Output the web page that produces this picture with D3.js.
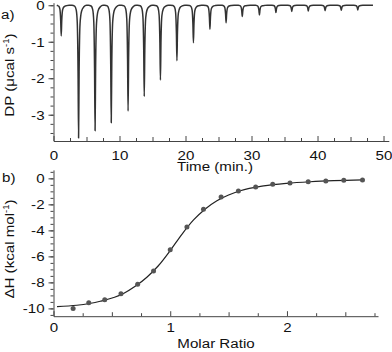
<!DOCTYPE html>
<html>
<head>
<meta charset="utf-8">
<script src="https://cdn.jsdelivr.net/npm/d3@7"></script>
<style>
  body { margin: 0; background: #fff; }
  svg { display: block; }
  text { font-family: "Liberation Sans", Arial, sans-serif; fill: #111; }
</style>
</head>
<body>
<svg id="chart" width="392" height="352"></svg>
<script>
// ---- Data ----
// Panel a: thermogram injection peaks
const peakTimes = [1.17, 3.8, 6.3, 8.75, 11.3, 13.75, 16.2, 18.7, 21.2, 23.7, 26.15, 28.6, 31.2, 33.7, 36.1, 38.6, 41.15, 43.6, 46.1];
const peakDepths = [-0.84, -3.64, -3.44, -3.22, -2.90, -2.50, -2.05, -1.52, -1.03, -0.66, -0.48, -0.31, -0.27, -0.20, -0.17, -0.16, -0.15, -0.14, -0.13];
const traceStart = 0.5, traceEnd = 48.4;
const topXTicks = [0, 10, 20, 30, 40, 50];
const topYTicks = [0, -1, -2, -3];

// Panel b: integrated heats
const molarRatio = [0.168, 0.302, 0.439, 0.578, 0.721, 0.857, 1.0, 1.143, 1.285, 1.436, 1.584, 1.732, 1.878, 2.026, 2.182, 2.333, 2.487, 2.647];
const deltaH = [-10.0, -9.56, -9.33, -8.87, -8.15, -7.13, -5.49, -3.74, -2.38, -1.44, -0.97, -0.67, -0.46, -0.36, -0.26, -0.20, -0.15, -0.12];
// Fitted curve
const fitX = [0.03, 0.2, 0.4, 0.6, 0.7, 0.8, 0.9, 1.0, 1.1, 1.2, 1.3, 1.4, 1.5, 1.6, 1.8, 2.0, 2.2, 2.4, 2.65];
const fitY = [-9.86, -9.76, -9.45, -8.85, -8.3, -7.6, -6.7, -5.55, -4.3, -3.2, -2.35, -1.72, -1.28, -0.95, -0.58, -0.38, -0.26, -0.18, -0.12];
const botXTicks = [0, 1, 2];
const botYTicks = [0, -2, -4, -6, -8, -10];

// ---- Layout ----
const svg = d3.select("#chart");
const axisColor = "#444";
const FS = "13.5px";
const SX = 1.12; // horizontal stretch of the lettering in the reference
const fmt = d => String(d);

// Panel a scales
const xA = d3.scaleLinear().domain([0, 50.8]).range([53.5, 388.8]);
const yA = d3.scaleLinear().domain([0.07, -3.72]).range([2.7, 141]);

// Panel b scales
const xB = d3.scaleLinear().domain([0, 2.78]).range([53.5, 378]);
const yB = d3.scaleLinear().domain([0.65, -10.6]).range([169.9, 316.2]);

function styleAxis(g) {
  g.selectAll("path.domain").attr("stroke", axisColor).attr("stroke-width", 1);
  g.selectAll(".tick line").attr("stroke", axisColor).attr("stroke-width", 1);
  g.selectAll(".tick text").style("font-size", FS).attr("fill", "#111")
    .style("font-family", '"Liberation Sans", Arial, sans-serif')
    .attr("transform", `scale(${SX},1)`);
}
function minorAxis(g) {
  g.select("path.domain").remove();
  g.selectAll(".tick text").remove();
  g.selectAll(".tick line").attr("stroke", axisColor).attr("stroke-width", 1);
}
function label(x, y, anchor, rot) {
  return svg.append("text")
    .attr("transform", `translate(${x},${y})` + (rot ? ` rotate(${rot})` : "") + ` scale(${SX},1)`)
    .attr("text-anchor", anchor).style("font-size", FS);
}

// ---- Panel a axes ----
const minorTop = d3.range(-3.5, 0.01, 0.25);
svg.append("g").attr("transform", `translate(${xA.range()[0]},0)`)
  .call(d3.axisLeft(yA).tickValues(minorTop).tickSize(3).tickFormat(""))
  .call(minorAxis);
svg.append("g").attr("transform", `translate(${xA.range()[0]},0)`)
  .call(d3.axisLeft(yA).tickValues(topYTicks).tickSize(5).tickPadding(3).tickSizeOuter(0).tickFormat(fmt))
  .call(styleAxis);

svg.append("g").attr("transform", `translate(0,${yA.range()[1]})`)
  .call(d3.axisBottom(xA).tickValues(d3.range(2.5, 50, 5)).tickSize(-3).tickFormat(""))
  .call(minorAxis);
svg.append("g").attr("transform", `translate(0,${yA.range()[1]})`)
  .call(d3.axisBottom(xA).tickValues(d3.range(5, 50, 10)).tickSize(-4).tickFormat(""))
  .call(minorAxis);
svg.append("g").attr("transform", `translate(0,${yA.range()[1]})`)
  .call(d3.axisBottom(xA).tickValues(topXTicks).tickSize(-5).tickPadding(9.4).tickSizeOuter(0).tickFormat(fmt))
  .call(styleAxis);

// Thermogram trace: each injection drawn with a fixed peak outline scaled by its depth
const kernelDt = [-1.0, -0.6, -0.36, -0.2, -0.08, 0, 0.08, 0.22, 0.45, 0.8, 1.2];
const kernelFrac = [0, 0.006, 0.035, 0.13, 0.5, 1, 0.5, 0.14, 0.045, 0.012, 0];
const tracePts = [[traceStart, 0]];
peakTimes.forEach((t, i) => {
  kernelDt.forEach((dt, k) => {
    const tt = t + dt;
    if (tt > traceStart && tt < traceEnd) tracePts.push([tt, peakDepths[i] * kernelFrac[k]]);
  });
});
tracePts.push([traceEnd, 0]);
tracePts.sort((a, b) => a[0] - b[0]);
svg.append("path")
  .attr("d", d3.line().x(d => xA(d[0])).y(d => yA(d[1])).curve(d3.curveMonotoneX)(tracePts))
  .attr("fill", "none").attr("stroke", "#333").attr("stroke-width", 1.5).attr("stroke-linejoin", "round");

// Labels panel a
label(1, 18.5, "start").text("a)");
label(215, 170.7, "middle").text("Time (min.)");
const yLabA = label(14, 75, "middle", -90);
yLabA.append("tspan").text("DP (μcal s");
yLabA.append("tspan").attr("dy", -5).style("font-size", "8.5px").text("-1");
yLabA.append("tspan").attr("dy", 5).text(")");

// ---- Panel b axes ----
svg.append("g").attr("transform", `translate(${xB.range()[0]},0)`)
  .call(d3.axisLeft(yB).tickValues(d3.range(-10.5, 0.51, 0.5)).tickSize(3).tickFormat(""))
  .call(minorAxis);
svg.append("g").attr("transform", `translate(${xB.range()[0]},0)`)
  .call(d3.axisLeft(yB).tickValues(botYTicks).tickSize(5).tickPadding(3).tickSizeOuter(0).tickFormat(fmt))
  .call(styleAxis);

svg.append("g").attr("transform", `translate(0,${yB.range()[1]})`)
  .call(d3.axisBottom(xB).tickValues([0.25, 0.75, 1.25, 1.75, 2.25, 2.75]).tickSize(-3).tickFormat(""))
  .call(minorAxis);
svg.append("g").attr("transform", `translate(0,${yB.range()[1]})`)
  .call(d3.axisBottom(xB).tickValues([0.5, 1.5, 2.5]).tickSize(-4).tickFormat(""))
  .call(minorAxis);
svg.append("g").attr("transform", `translate(0,${yB.range()[1]})`)
  .call(d3.axisBottom(xB).tickValues(botXTicks).tickSize(-5).tickPadding(6.6).tickSizeOuter(0).tickFormat(fmt))
  .call(styleAxis);

// Fit line
svg.append("path")
  .attr("d", d3.line().x((d, i) => xB(fitX[i])).y((d, i) => yB(fitY[i])).curve(d3.curveMonotoneX)(fitX))
  .attr("fill", "none").attr("stroke", "#222").attr("stroke-width", 1.2);

// Points
svg.append("g").selectAll("circle").data(molarRatio).join("circle")
  .attr("cx", d => xB(d)).attr("cy", (d, i) => yB(deltaH[i])).attr("r", 2.5)
  .attr("fill", "#555");

// Labels panel b
label(2, 181.5, "start").text("b)");
label(216, 347.7, "middle").text("Molar Ratio");
const yLabB = label(14, 249, "middle", -90);
yLabB.append("tspan").text("ΔH (kcal mol");
yLabB.append("tspan").attr("dy", -5).style("font-size", "8.5px").text("-1");
yLabB.append("tspan").attr("dy", 5).text(")");
</script>
</body>
</html>
